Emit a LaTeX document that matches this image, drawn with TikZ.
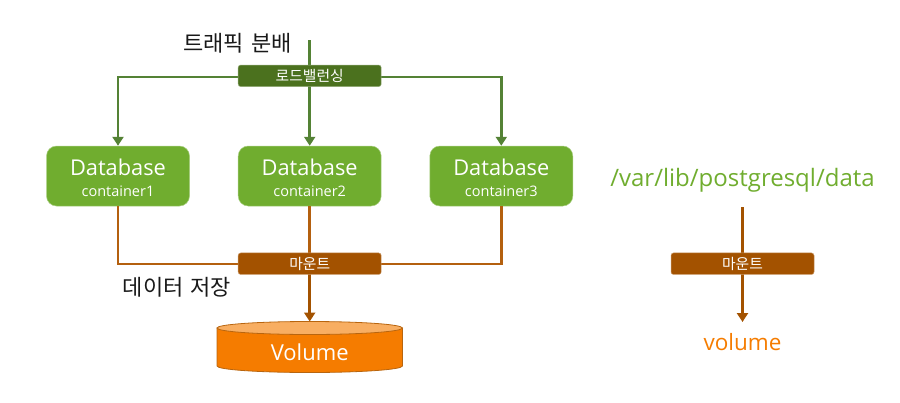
\documentclass[tikz,border=0pt]{standalone}
\usepackage{fontspec}
\setmainfont{Open Sans}
\newfontfamily\kr{Noto Sans CJK KR}
\usetikzlibrary{arrows.meta}
\definecolor{dbgreen}{HTML}{70AD2F}
\definecolor{lbgreen}{HTML}{4B711E}
\definecolor{greenline}{HTML}{548235}
\definecolor{mountbrown}{HTML}{A35200}
\definecolor{brownline}{HTML}{B4600F}
\definecolor{volorange}{HTML}{F57C00}
\definecolor{voltop}{HTML}{F8AE62}
\definecolor{voledge}{HTML}{B8650F}
\tikzset{
 x=1pt,y=-1pt,
 dbbox/.style={draw=dbgreen!60!white,line width=.5pt,fill=dbgreen,rounded corners=10pt,minimum width=143pt,minimum height=60pt,inner sep=0pt,text=white,align=center,font=\fontsize{14.5}{20.5}\selectfont},
 barbox/.style={rounded corners=2.5pt,minimum width=143pt,minimum height=21.5pt,inner sep=0pt,text=white,font=\kr\fontsize{14.8}{16}\selectfont,line width=.5pt},
 lbbar/.style={barbox,draw=lbgreen!60!white,fill=lbgreen},
 mountbar/.style={barbox,draw=mountbrown!60!white,fill=mountbrown},
 gline/.style={draw=greenline,line width=2.8pt},
 bline/.style={draw=brownline,line width=2.8pt},
 darrow/.style={-{Triangle[length=9pt,width=11pt]}},
 caption/.style={inner sep=0pt,text=black!90,font=\kr\fontsize{22}{26}\selectfont},
}
\newcommand{\dbtext}[1]{\rule{0pt}{20pt}{\fontsize{21.8}{24}\selectfont Database}\\#1}
\begin{document}
\begin{tikzpicture}
\useasboundingbox (0,0) rectangle (900,402);
\node[dbbox] (db1) at (118,176) {\dbtext{container1}};
\node[dbbox] (db2) at (309.7,176) {\dbtext{container2}};
\node[dbbox] (db3) at (501.3,176) {\dbtext{container3}};
\coordinate (top) at (309.7,40);
\coordinate (vol) at (309.7,321.5);
\coordinate (rt) at (742.5,207);
\coordinate (rb) at (742.5,322);
% connectors
\draw[gline] (top) -- (309.7,66);
\draw[gline,darrow] (309.7,86) -- (db2.north);
\draw[gline,darrow] (239,77) -- (118,77) -- (db1.north);
\draw[gline,darrow] (380,77) -- (501.3,77) -- (db3.north);
\draw[bline] (db1.south) -- (118,264) -- (239,264);
\draw[bline] (db3.south) -- (501.3,264) -- (380,264);
\draw[bline] (db2.south) -- (309.7,254);
\draw[bline,draw=mountbrown,darrow] (309.7,274) -- (vol);
\draw[bline,draw=mountbrown,darrow] (rt) -- (rb);
% bars
\node[lbbar] (lb) at (309.7,75.8) {로드밸런싱};
\node[mountbar] (m) at (309.7,263.7) {마운트};
\node[mountbar] (mr) at (742.5,263.7) {마운트};
% volume
\path[draw=voledge,line width=.8pt,fill=volorange] (217,328) -- (217,366) arc[start angle=180,end angle=360,x radius=92.7pt,y radius=6.5pt] -- (402.4,328) -- cycle;
\path[draw=voledge,line width=.8pt,fill=voltop] (309.7,328) ellipse[x radius=92.7pt,y radius=6.5pt];
\node[inner sep=0pt,text=white,font=\fontsize{22}{26}\selectfont] (voltext) at (309.7,352) {Volume};
% captions
\node[caption] (c1) at (237.5,43.5) {트래픽\hspace{2pt} 분배};
\node[caption] (c2) at (177,287) {데이터\hspace{2pt} 저장};
\node[inner sep=0pt,text=dbgreen,font=\fontsize{24}{28}\selectfont] (path) at (742.5,180) {/var/lib/postgresql/data};
\node[inner sep=0pt,text=volorange,font=\fontsize{22.5}{26}\selectfont] (vt) at (742.5,342.5) {volume};
\end{tikzpicture}
\end{document}
